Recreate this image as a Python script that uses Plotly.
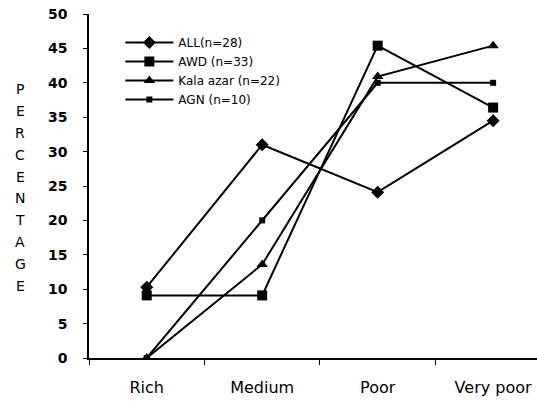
import plotly.graph_objects as go

categories = ["Rich", "Medium", "Poor", "Very poor"]
all_vals = [10.3, 31.0, 24.1, 34.5]
awd_vals = [9.1, 9.1, 45.4, 36.4]
kala_vals = [0.0, 13.6, 40.9, 45.4]
agn_vals = [0.0, 20.0, 40.0, 40.0]
y_ticks = [0, 5, 10, 15, 20, 25, 30, 35, 40, 45, 50]
y_title = "PERCENTAGE"

series = [
    ("ALL(n=28)", all_vals, "diamond", 10),
    ("AWD (n=33)", awd_vals, "square", 10),
    ("Kala azar (n=22)", kala_vals, "triangle-up", 10),
    ("AGN (n=10)", agn_vals, "square", 6),
]

FAM = "DejaVu Sans, Arial, sans-serif"

fig = go.Figure()
for name, vals, sym, size in series:
    fig.add_trace(go.Scatter(
        x=categories, y=vals, name=name, mode="lines+markers",
        line=dict(color="black", width=2),
        marker=dict(symbol=sym, size=size, color="black"),
    ))

fig.update_layout(
    width=537, height=403,
    margin=dict(l=89, r=0, t=14, b=45),
    paper_bgcolor="white", plot_bgcolor="white",
    font=dict(size=14, family=FAM, color="black"),
    showlegend=True,
    legend=dict(x=0.07, y=0.959, xanchor="left", yanchor="top",
                bgcolor="rgba(0,0,0,0)", itemwidth=48,
                font=dict(size=12, family=FAM, color="black"),
                tracegroupgap=0),
    xaxis=dict(type="category", range=[-0.5, 3.38], showline=True,
               linecolor="black", linewidth=1.5, ticks="outside",
               tickson="boundaries", ticklen=5, tickcolor="black",
               showgrid=False, zeroline=False, ticklabelstandoff=14,
               tickfont=dict(size=16, family=FAM, color="black")),
    yaxis=dict(range=[0, 50], tickvals=y_ticks, showline=True,
               linecolor="black", linewidth=1.5, ticks="outside",
               ticklen=4, tickcolor="black", showgrid=False,
               zeroline=False, ticklabelstandoff=13,
               tickfont=dict(size=14, family=FAM, color="black",
                             weight="bold")),
)

# vertical stacked axis title, one letter per line
plot_w, plot_h = 537 - 89, 403 - 14 - 45
for i, ch in enumerate(y_title):
    ypix = 89 + i * 21.9
    fig.add_annotation(
        text=ch, xref="paper", yref="paper",
        x=(20 - 89) / plot_w, y=(358 - ypix) / plot_h,
        xanchor="center", yanchor="middle", showarrow=False,
        font=dict(size=14, family=FAM, color="black"),
    )

fig.write_html(
    "out.html",
    config={"displayModeBar": False},
    post_script="document.body.style.margin='0';document.body.style.overflow='hidden';",
)
